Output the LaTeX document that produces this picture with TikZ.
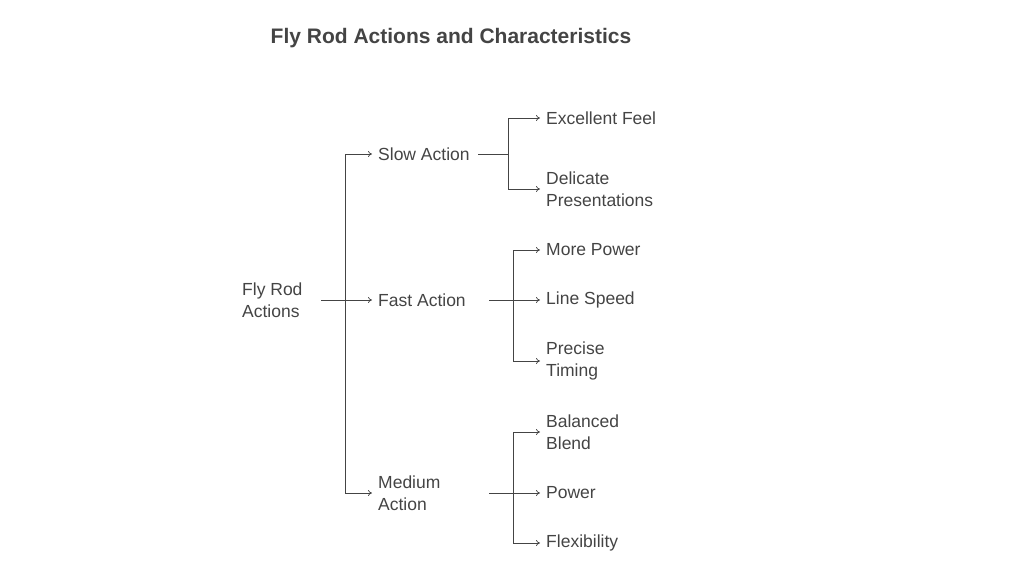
\documentclass[tikz,border=0pt]{standalone}
\usepackage{fontspec}
\setmainfont{Liberation Sans}
\usetikzlibrary{arrows.meta}
\definecolor{ink}{HTML}{444444}
\begin{document}
\begin{tikzpicture}[x=1pt,y=-1pt,
  lbl/.style={anchor=west,inner sep=0pt,align=left,text=ink,font=\fontsize{17.5}{21.5}\selectfont},
  conn/.style={draw=ink,line width=0.7pt,-{To[length=4pt,width=6pt]}},
  ln/.style={draw=ink,line width=0.7pt}]
\useasboundingbox (0,0) rectangle (1024,576);
\node[text=ink,font=\bfseries\fontsize{21}{25}\selectfont] (title) at (451,38) {Fly Rod Actions and Characteristics};
\node[lbl] (root) at (242,300) {Fly Rod\\Actions};
\node[lbl] (slow) at (378,154) {Slow Action};
\node[lbl] (fast) at (378,300) {Fast Action};
\node[lbl] (med) at (378,493) {Medium\\Action};
\node[lbl] (s1) at (546,118) {Excellent Feel};
\node[lbl] (s2) at (546,189) {Delicate\\Presentations};
\node[lbl] (f1) at (546,250) {More Power};
\node[lbl] (f2) at (546,300) {Line Speed};
\node[lbl] (f3) at (546,361) {Precise\\Timing};
\node[lbl] (m1) at (546,432) {Balanced\\Blend};
\node[lbl] (m2) at (546,493) {Power};
\node[lbl] (m3) at (546,543) {Flexibility};
% root
\coordinate (rj) at (345,300);
\draw[ln] (321,300) -- (rj);
\draw[conn] (345,154) -- ([xshift=-6pt]slow.west);
\draw[conn] (rj) -- ([xshift=-6pt]fast.west);
\draw[conn] (345,493) -- ([xshift=-6pt]med.west);
\draw[ln] (345,154) -- (345,493);
% slow
\draw[ln] (478,154) -- (508,154);
\draw[ln] (508,118) -- (508,189);
\draw[conn] (508,118) -- ([xshift=-6pt]s1.west);
\draw[conn] (508,189) -- ([xshift=-6pt]s2.west);
% fast
\draw[ln] (513,250) -- (513,361);
\draw[conn] (489,300) -- ([xshift=-6pt]f2.west);
\draw[conn] (513,250) -- ([xshift=-6pt]f1.west);
\draw[conn] (513,361) -- ([xshift=-6pt]f3.west);
% medium
\draw[ln] (513,432) -- (513,543);
\draw[conn] (489,493) -- ([xshift=-6pt]m2.west);
\draw[conn] (513,432) -- ([xshift=-6pt]m1.west);
\draw[conn] (513,543) -- ([xshift=-6pt]m3.west);
\end{tikzpicture}
\end{document}
